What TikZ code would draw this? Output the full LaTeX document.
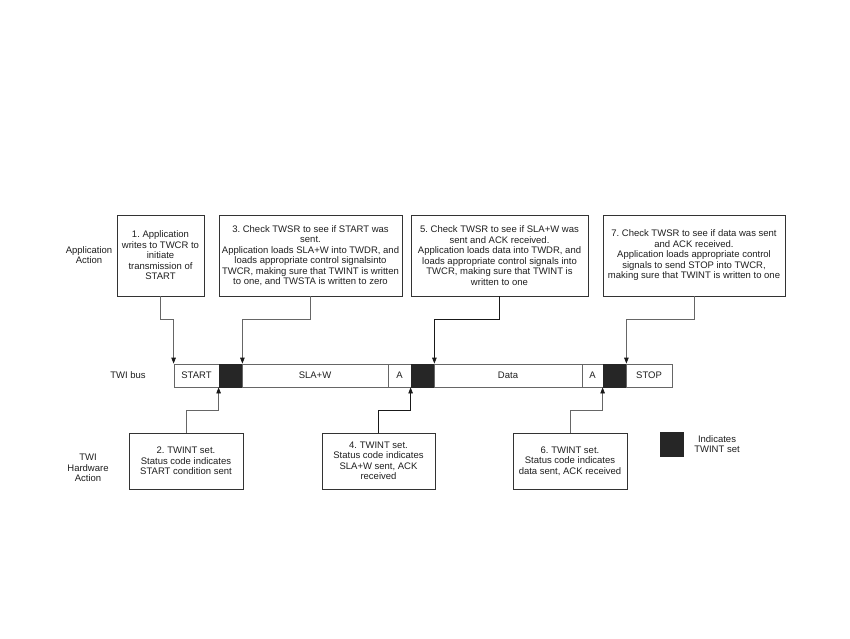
\documentclass[tikz,border=0pt]{standalone}
\usepackage{fontspec}
\setmainfont{Liberation Sans}
\usetikzlibrary{arrows.meta}
\frenchspacing
\begin{document}
\begin{tikzpicture}[x=1pt,y=-1pt,
  every node/.style={font=\fontsize{9.5}{10.5}\selectfont, text=black!88},
  box/.style={draw=black!80, line width=0.8pt, rectangle, align=center, inner sep=0pt},
  cell/.style={draw=black!60, line width=0.8pt, rectangle, minimum height=23pt, inner sep=0pt},
  blk/.style={cell, fill=black!85, draw=black!85},
  conn/.style={draw=black!60, line width=0.8pt, -{Triangle[length=6pt,width=4.5pt,color=black!90]}},
  dconn/.style={conn, draw=black!90}
]
\fill[white] (0,0) rectangle (850,638);
\useasboundingbox (0,0) rectangle (850,638);

% top boxes
\node[box, minimum width=87pt, minimum height=81pt] (box1) at (160.5,255.5)
  {1. Application\\writes to TWCR to\\initiate\\transmission of\\START};
\node[box, minimum width=183pt, minimum height=81pt] (box3) at (310.5,255.5)
  {3. Check TWSR to see if START was\\sent.\\Application loads SLA+W into TWDR, and\\loads appropriate control signalsinto\\TWCR, making sure that TWINT is written\\to one, and TWSTA is written to zero};
\node[box, minimum width=177pt, minimum height=81pt] (box5) at (499.5,255.5)
  {5. Check TWSR to see if SLA+W was\\sent and ACK received.\\Application loads data into TWDR, and\\loads appropriate control signals into\\TWCR, making sure that TWINT is\\written to one};
\node[box, minimum width=182pt, minimum height=81pt] (box7) at (694,255.5)
  {7. Check TWSR to see if data was sent\\and ACK received.\\Application loads appropriate control\\signals to send STOP into TWCR,\\making sure that TWINT is written to one};

% bus
\node[cell, minimum width=45pt] (start) at (196.5,375.5) {START};
\node[blk, minimum width=23pt] (b1) at (230.5,375.5) {};
\node[cell, minimum width=146pt] (slaw) at (315,375.5) {SLA+W};
\node[cell, minimum width=23pt] (a1) at (399.5,375.5) {A};
\node[blk, minimum width=23pt] (b2) at (422.5,375.5) {};
\node[cell, minimum width=148pt] (data) at (508,375.5) {Data};
\node[cell, minimum width=21pt] (a2) at (592.5,375.5) {A};
\node[blk, minimum width=23pt] (b3) at (614.5,375.5) {};
\node[cell, minimum width=46pt] (stop) at (649,375.5) {STOP};

% bottom boxes
\node[box, minimum width=114pt, minimum height=56pt] (box2) at (186,461)
  {2. TWINT set.\\Status code indicates\\START condition sent};
\node[box, minimum width=113pt, minimum height=56pt] (box4) at (378.5,461)
  {4. TWINT set.\\Status code indicates\\SLA+W sent, ACK\\received};
\node[box, minimum width=114pt, minimum height=56pt] (box6) at (570,461)
  {6. TWINT set.\\Status code indicates\\data sent, ACK received};

% labels
\node[align=center] (lapp) at (89,255) {Application\\Action};
\node (lbus) at (128,375.5) {TWI bus};
\node[align=center] (lhw) at (88,468) {TWI\\Hardware\\Action};
\node[blk, minimum width=23pt, minimum height=24pt] (leg) at (671.5,444) {};
\node[align=center] (legt) at (717,444) {Indicates\\TWINT set};

% connectors
\coordinate (ht) at (0,319);
\coordinate (hb) at (0,410);
\draw[conn] (box1.south) -- (box1.south |- ht) -| (start.north west);
\draw[conn] (box3.south) -- (box3.south |- ht) -| (b1.north east);
\draw[dconn] (box5.south) -- (box5.south |- ht) -| (b2.north east);
\draw[conn] (box7.south) -- (box7.south |- ht) -| (b3.north east);
\draw[conn] (box2.north) -- (box2.north |- hb) -| (b1.south west);
\draw[dconn] (box4.north) -- (box4.north |- hb) -| (b2.south west);
\draw[conn] (box6.north) -- (box6.north |- hb) -| (b3.south west);
\end{tikzpicture}
\end{document}
